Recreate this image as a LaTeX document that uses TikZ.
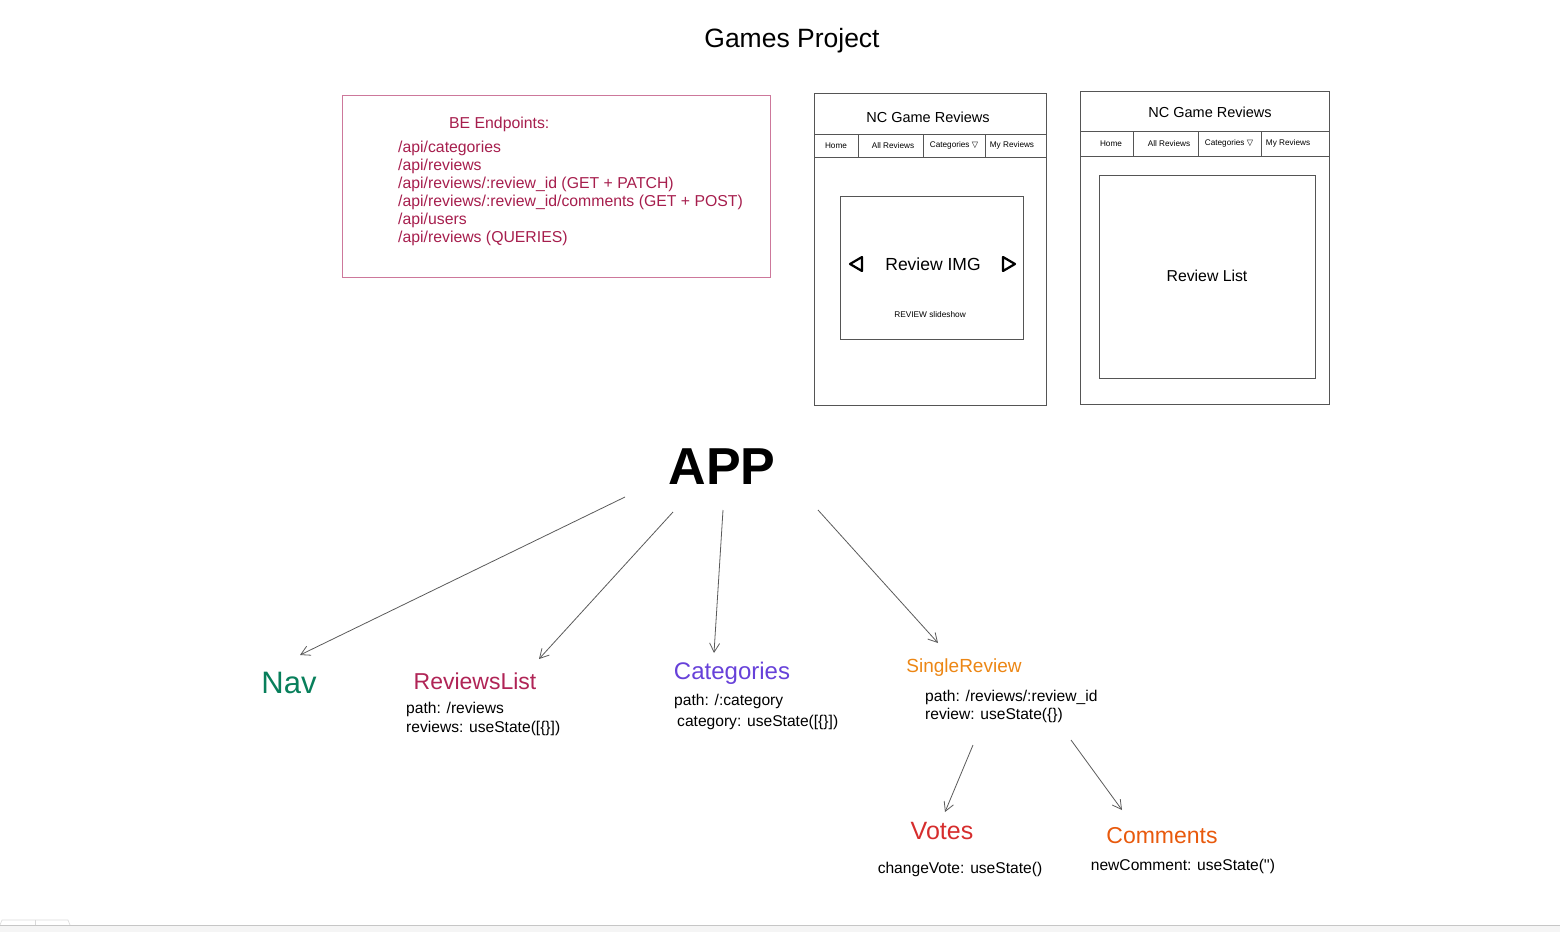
\documentclass[tikz,border=0pt]{standalone}
\usepackage{fontspec}
\setmainfont{Liberation Sans}
\newfontfamily\symfont{DejaVu Sans}
\usepackage{xcolor}
\usetikzlibrary{arrows.meta,positioning,calc}
\definecolor{endpink}{RGB}{166,30,77}
\definecolor{boxpink}{RGB}{205,120,155}
\definecolor{navgreen}{RGB}{8,127,91}
\definecolor{listcrimson}{RGB}{176,36,86}
\definecolor{catpurple}{RGB}{103,65,217}
\definecolor{singleorange}{RGB}{236,134,20}
\definecolor{votered}{RGB}{214,45,45}
\definecolor{commentorange}{RGB}{232,89,12}
\definecolor{wiregray}{RGB}{85,85,85}
\definecolor{arrowgray}{RGB}{90,90,90}

\begin{document}
\begin{tikzpicture}[x=1pt, y=-1pt,
    wire/.style={draw=wiregray, line width=1pt},
    headtext/.style={font=\fontsize{14.5}{16}\selectfont},
    navtext/.style={font=\fontsize{8.2}{9}\selectfont},
    endpoint/.style={font=\fontsize{15.8}{18}\selectfont, color=endpink, align=left, anchor=north west, inner sep=0pt},
    comp/.style={font=\fontsize{#1}{#1}\selectfont},
    prop/.style={font=\fontsize{15.6}{17}\selectfont, anchor=west, inner sep=0pt},
    arrow/.style={-{Straight Barb[length=9pt, width=10pt]}, color=arrowgray, line width=0.8pt}
]
\useasboundingbox (0,0) rectangle (1560,932);

% Title
\node[font=\fontsize{26.5}{30}\selectfont] (title) at (792,40.5) {Games Project};

% BE endpoints box
\draw[draw=boxpink, line width=0.9pt] (342,95) rectangle (770,277);
\node[endpoint] (behead) at (449,117) {BE Endpoints:};
\node[endpoint] (belist) at (398,140.5) {/api/categories\\/api/reviews\\/api/reviews/:review\_id (GET + PATCH)\\/api/reviews/:review\_id/comments (GET + POST)\\/api/users\\/api/reviews (QUERIES)};

% Wireframe 1: slideshow page
\draw[wire] (814,93) rectangle (1046,405);
\draw[wire] (814,134) -- (1046,134);
\draw[wire] (814,157) -- (1046,157);
\foreach \x in {858,923,985} \draw[wire] (\x,134) -- (\x,157);
\node[headtext] (wahead) at (928,117) {NC Game Reviews};
\foreach \x/\t [count=\i] in {836/Home, 893/All Reviews, 954/{Categories {\symfont ▽}}, 1012/My Reviews}
    \node[navtext] (wa\i) at (\x,145.5) {\t};
\draw[wire] (840,196) rectangle (1023,339);
\node[font=\fontsize{17.5}{19}\selectfont] (img) at (933,264) {Review IMG};
\node[font=\fontsize{8.3}{9}\selectfont] (slides) at (930,315) {REVIEW slideshow};
\draw[line width=2.2pt, line join=round] (862,257) -- (850,264) -- (862,271) -- cycle;
\draw[line width=2.2pt, line join=round] (1003,257) -- (1015,264) -- (1003,271) -- cycle;

% Wireframe 2: review list page
\draw[wire] (1080,91) rectangle (1329,404);
\draw[wire] (1080,131) -- (1329,131);
\draw[wire] (1080,156) -- (1329,156);
\foreach \x in {1133,1198,1261} \draw[wire] (\x,131) -- (\x,156);
\node[headtext] (wbhead) at (1210,112) {NC Game Reviews};
\foreach \x/\t [count=\i] in {1111/Home, 1169/All Reviews, 1229/{Categories {\symfont ▽}}, 1288/My Reviews}
    \node[navtext] (wb\i) at (\x,143.5) {\t};
\draw[wire] (1099,175) rectangle (1315,378);
\node[font=\fontsize{15.8}{18}\selectfont] (revlist) at (1207,276) {Review List};

% Component tree
\node[font=\fontsize{52}{60}\selectfont\bfseries] (app) at (722,467) {APP};

\node[comp=31, color=navgreen] (nav) at (289,683) {Nav};
\node[comp=23, color=listcrimson] (reviewslist) at (475,681) {ReviewsList};
\node[prop] (rlpath) at (406,709.5) {path: /reviews};
\node[prop] (rlstate) at (406,728) {reviews: useState([\{\}])};

\node[comp=24, color=catpurple] (categories) at (732,673) {Categories};
\node[prop] (catpath) at (674,701.5) {path: /:category};
\node[prop] (catstate) at (677,722.5) {category: useState([\{\}])};

\node[comp=19, color=singleorange] (single) at (964,668) {SingleReview};
\node[prop] (srpath) at (925,697.5) {path: /reviews/:review\_id};
\node[prop] (srstate) at (925,715.5) {review: useState(\{\})};

\node[comp=25, color=votered] (votes) at (942,831) {Votes};
\node[prop, anchor=center] (votestate) at (960,869) {changeVote: useState()};
\node[comp=23, color=commentorange] (comments) at (1162,836) {Comments};
\node[prop, anchor=center] (comstate) at (1183,866) {newComment: useState(\textquotesingle\textquotesingle)};

% Arrow ends
\coordinate (appnav) at (625,497);   \coordinate (tonav) at (300,655);
\coordinate (applist) at (673,512);  \coordinate (tolist) at (539,659);
\coordinate (appcat) at (723,510);   \coordinate (tocat) at (714,653);
\coordinate (appsingle) at (818,510); \coordinate (tosingle) at (938,643);
\coordinate (srvotes) at (973,745);  \coordinate (tovotes) at (945,812);
\coordinate (srcom) at (1071,740);   \coordinate (tocom) at (1122,810);

\draw[arrow] (appnav) -- (tonav);
\draw[arrow] (applist) -- (tolist);
\draw[arrow] (appcat) -- (tocat);
\draw[arrow] (appsingle) -- (tosingle);
\draw[arrow] (srvotes) -- (tovotes);
\draw[arrow] (srcom) -- (tocom);

% Bottom strip
\fill[gray!8] (0,925) rectangle (1560,932);
\draw[gray!45, line width=1pt] (0,925) -- (1560,925);
\draw[gray!30, line width=0.6pt] (0,925) -- (2,920) -- (68,920) -- (70,925);
\draw[gray!30, line width=0.6pt] (35,920) -- (35,925);
\end{tikzpicture}
\end{document}
